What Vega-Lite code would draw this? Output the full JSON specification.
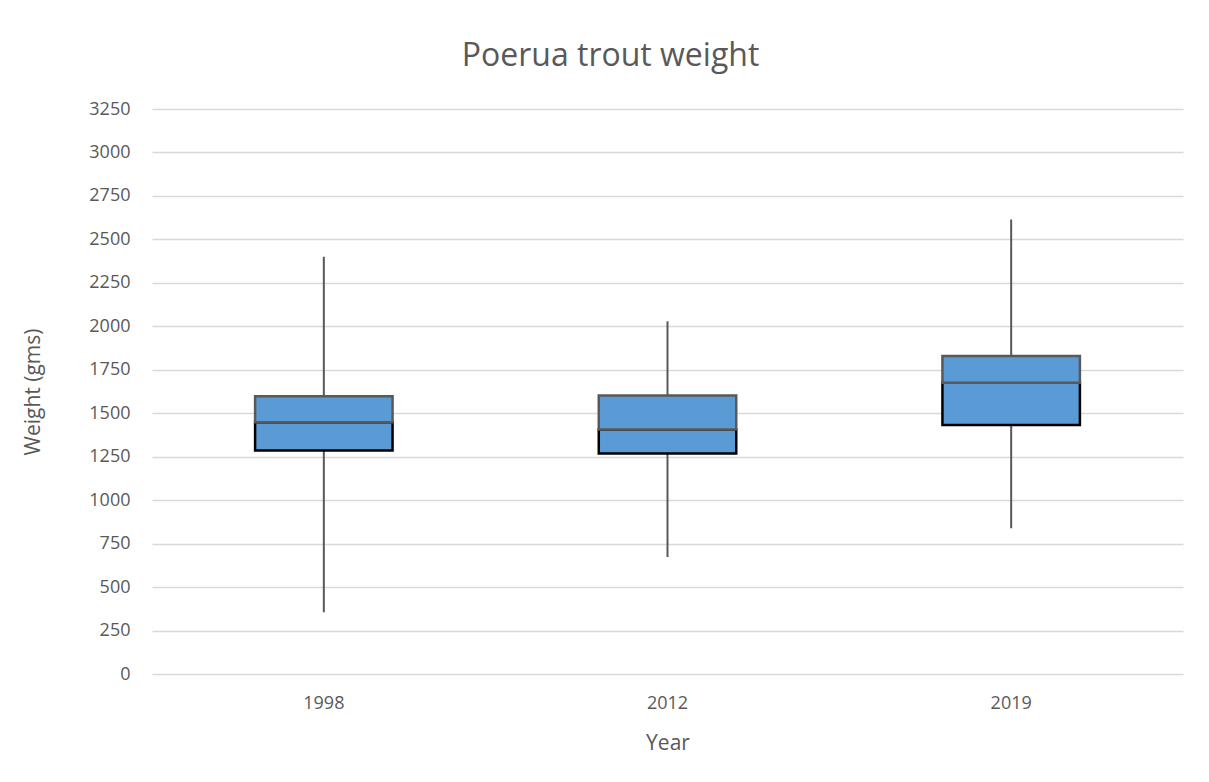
{
  "$schema": "https://vega.github.io/schema/vega-lite/v6.json",
  "width": 1031,
  "height": 565,
  "autosize": {"type": "none"},
  "padding": {"left": 152, "top": 109, "right": 26, "bottom": 108},
  "background": "white",
  "config": {
    "view": {"stroke": null},
    "font": "Open Sans"
  },
  "title": {
    "text": "Poerua trout weight",
    "fontSize": 32,
    "font": "Open Sans",
    "fontWeight": "normal",
    "color": "#595959",
    "anchor": "middle",
    "dx": -57,
    "offset": 27
  },
  "data": {
    "values": [
      {"year": "1998", "min": 355, "q1": 1285, "median": 1448, "q3": 1597, "max": 2400},
      {"year": "2012", "min": 673, "q1": 1269, "median": 1406, "q3": 1602, "max": 2029},
      {"year": "2019", "min": 838, "q1": 1433, "median": 1675, "q3": 1829, "max": 2615}
    ]
  },
  "encoding": {
    "x": {
      "field": "year",
      "type": "nominal",
      "scale": {"paddingInner": 0.6, "paddingOuter": 0.3},
      "axis": {
        "title": "Year",
        "labelAngle": 0,
        "labelFontSize": 18,
        "labelColor": "#595959",
        "labelPadding": 20,
        "titleFontSize": 21,
        "titleFontWeight": "normal",
        "titleColor": "#595959",
        "titlePadding": 20,
        "ticks": false,
        "domain": false,
        "grid": false
      }
    }
  },
  "layer": [
    {
      "mark": {"type": "rule", "color": "#595959", "strokeWidth": 2},
      "encoding": {
        "y": {
          "field": "min",
          "type": "quantitative",
          "scale": {"domain": [0, 3250], "nice": false},
          "axis": {
            "title": "Weight (gms)",
            "format": "d",
            "values": [0, 250, 500, 750, 1000, 1250, 1500, 1750, 2000, 2250, 2500, 2750, 3000, 3250],
            "labelFontSize": 18,
            "labelColor": "#595959",
            "labelPadding": 22,
            "titleFontSize": 21,
            "titleFontWeight": "normal",
            "titleColor": "#595959",
            "titlePadding": 45,
            "ticks": false,
            "domain": false,
            "gridColor": "#d9d9d9",
            "gridWidth": 1.5
          }
        },
        "y2": {"field": "max"}
      }
    },
    {
      "mark": {"type": "bar", "color": "#5b9bd5", "stroke": "#000000", "strokeWidth": 2.5},
      "encoding": {
        "y": {"field": "q1", "type": "quantitative"},
        "y2": {"field": "median"}
      }
    },
    {
      "mark": {"type": "bar", "color": "#5b9bd5", "stroke": "#595959", "strokeWidth": 2.5},
      "encoding": {
        "y": {"field": "median", "type": "quantitative"},
        "y2": {"field": "q3"}
      }
    }
  ]
}
